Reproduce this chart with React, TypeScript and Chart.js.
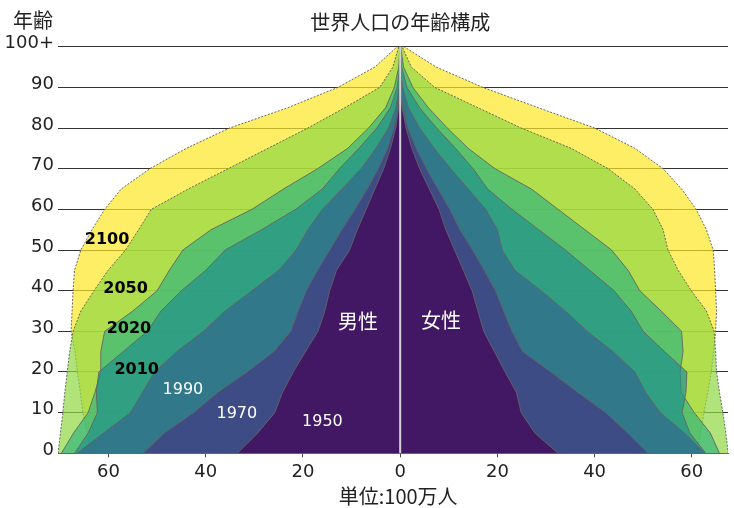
import React, { useEffect, useRef } from 'react';
import { Chart, registerables } from 'chart.js';

Chart.register(...registerables);

// Age groups (start of each 5-year group; 100 = "100+")
const ageGroups = [0, 5, 10, 15, 20, 25, 30, 35, 40, 45, 50, 55, 60, 65, 70, 75, 80, 85, 90, 95, 100];

const years = ['1950', '1970', '1990', '2010', '2020', '2050', '2100'];

// Population per single year of age (millions), male = left side
const male1950 = [33.5, 29.3, 25.8, 24.2, 22.0, 19.5, 16.9, 15.5, 14.5, 13.1, 10.4, 8.8, 7.0, 5.2, 3.4, 2.0, 0.9, 0.3, 0.06, 0.01, 0];
const female1950 = [32.5, 27.7, 24.9, 23.9, 21.6, 19.4, 17.2, 16.0, 14.8, 13.0, 11.2, 9.4, 8.0, 6.0, 4.0, 2.4, 1.2, 0.4, 0.1, 0.02, 0];
const male1970 = [52.9, 48.5, 42.5, 37.5, 31.5, 26.0, 22.5, 21.0, 19.3, 17.0, 14.5, 12.0, 9.3, 6.8, 4.5, 2.6, 1.3, 0.45, 0.1, 0.02, 0];
const female1970 = [51.0, 46.8, 42.3, 36.5, 31.0, 25.2, 23.0, 21.3, 19.6, 17.3, 14.9, 12.3, 10.2, 7.8, 5.4, 3.3, 1.6, 0.6, 0.14, 0.02, 0];
const male1990 = [66.5, 61.0, 55.5, 53.0, 50.5, 46.0, 40.5, 36.0, 30.5, 25.0, 21.4, 19.0, 16.0, 12.0, 8.0, 5.0, 2.4, 0.9, 0.2, 0.03, 0];
const female1990 = [62.7, 58.5, 53.5, 50.5, 48.3, 43.8, 38.5, 34.0, 29.0, 23.6, 21.0, 20.0, 17.6, 14.0, 10.4, 7.0, 4.0, 1.7, 0.5, 0.08, 0.01];
const male2010 = [67.0, 64.2, 62.3, 62.5, 62.0, 57.0, 52.0, 49.2, 45.0, 40.0, 36.0, 28.5, 21.5, 16.0, 12.5, 8.5, 4.8, 2.0, 0.6, 0.1, 0.02];
const female2010 = [62.9, 59.6, 58.0, 58.8, 59.0, 54.4, 50.0, 47.5, 44.0, 39.0, 34.0, 28.5, 23.0, 18.0, 15.0, 11.4, 7.5, 4.0, 1.4, 0.3, 0.05];
const male2020 = [69.7, 67.2, 64.2, 62.8, 61.6, 61.6, 60.8, 55.0, 50.0, 47.5, 44.7, 38.9, 30.5, 24.0, 17.0, 10.8, 6.5, 3.0, 1.2, 0.3, 0.04];
const female2020 = [65.7, 63.8, 60.5, 57.8, 57.6, 58.2, 57.9, 53.7, 49.3, 46.9, 43.5, 38.0, 32.5, 27.0, 19.5, 14.0, 9.7, 5.8, 2.6, 0.7, 0.1];
const male2050 = [70.4, 69.9, 69.4, 69.0, 68.5, 68.0, 67.3, 65.7, 63.0, 60.1, 56.5, 53.8, 51.2, 43.6, 35.4, 27.2, 19.0, 11.4, 4.2, 1.5, 0.3];
const female2050 = [67.5, 67.0, 66.4, 65.7, 65.1, 64.9, 64.6, 63.0, 59.9, 57.2, 55.1, 54.1, 52.0, 48.3, 42.8, 35.2, 24.9, 16.0, 7.1, 2.3, 0.4];
const male2100 = [63.7, 64.4, 65.3, 65.8, 66.4, 66.9, 67.7, 67.5, 67.3, 67.0, 65.7, 63.4, 60.8, 57.4, 51.5, 44.0, 35.1, 23.1, 12.8, 5.2, 0.6];
const female2100 = [60.9, 61.8, 62.5, 63.3, 64.0, 64.5, 64.9, 65.1, 64.9, 64.7, 64.4, 63.0, 60.9, 57.9, 54.1, 48.3, 40.0, 28.4, 17.0, 7.4, 0.8];

const maleSeries = [male1950, male1970, male1990, male2010, male2020, male2050, male2100];
const femaleSeries = [female1950, female1970, female1990, female2010, female2020, female2050, female2100];

const layerColors = ['#440154', '#443983', '#31688e', '#21918c', '#35b779', '#90d743', '#fde725'];
const dashedYears = ['2050', '2100'];

const xTickValues = [-60, -40, -20, 0, 20, 40, 60];
const yTickValues = [0, 10, 20, 30, 40, 50, 60, 70, 80, 90, 100];
const yTickLabels = ['0', '10', '20', '30', '40', '50', '60', '70', '80', '90', '100+'];

const xMin = -70.4;
const xMax = 67.45;

// In-chart annotations (data coordinates: millions, age)
const noteTexts = ['2100', '2050', '2020', '2010', '1990', '1970', '1950', '男性', '女性'];
const noteX = [-60.3, -56.5, -55.8, -54.2, -44.7, -33.6, -16.0, -8.7, 8.4];
const noteAge = [52.6, 40.5, 30.7, 20.6, 15.6, 9.7, 7.8, 32.5, 32.8];

const titleText = '世界人口の年齢構成';
const yTitleText = '年齢';
const xTitleText = '単位:100万人';

const NUM_FONT = '"DejaVu Sans", "Noto Sans CJK JP", sans-serif';
const JP_FONT = '"Noto Sans CJK JP", "DejaVu Sans", sans-serif';

function hexToRgba(hex: string, a: number) {
  const n = parseInt(hex.slice(1), 16);
  return `rgba(${(n >> 16) & 255},${(n >> 8) & 255},${n & 255},${a})`;
}

function polygon(male: number[], female: number[]) {
  const pts: { x: number; y: number }[] = [];
  for (let i = 0; i < ageGroups.length; i++) pts.push({ x: -male[i], y: ageGroups[i] });
  for (let i = ageGroups.length - 1; i >= 0; i--) pts.push({ x: female[i], y: ageGroups[i] });
  return pts;
}

const textPlugin = {
  id: 'texts',
  afterDatasetsDraw(chart: any) {
    const { ctx, scales } = chart;
    const xs = scales.x;
    const ys = scales.y;
    ctx.save();
    ctx.textAlign = 'center';
    ctx.textBaseline = 'middle';
    noteTexts.forEach((t, i) => {
      const isJp = t === '男性' || t === '女性';
      const yr = parseInt(t, 10);
      if (isJp) {
        ctx.font = `400 20px ${JP_FONT}`;
        ctx.fillStyle = '#ffffff';
      } else if (yr >= 2010) {
        ctx.font = `bold 16px ${NUM_FONT}`;
        ctx.fillStyle = '#000000';
      } else {
        ctx.font = `16px ${NUM_FONT}`;
        ctx.fillStyle = '#ffffff';
      }
      ctx.fillText(t, xs.getPixelForValue(noteX[i]), ys.getPixelForValue(noteAge[i]));
    });
    ctx.restore();
  },
  afterDraw(chart: any) {
    const { ctx, scales } = chart;
    const xs = scales.x;
    ctx.save();
    ctx.fillStyle = '#222222';
    ctx.textAlign = 'center';
    ctx.textBaseline = 'middle';
    ctx.font = `400 20px ${JP_FONT}`;
    ctx.fillText(titleText, xs.getPixelForValue(0), 22);
    ctx.fillText(yTitleText, 33, 20);
    ctx.fillText(xTitleText, xs.getPixelForValue(0) - 2, 496);
    ctx.restore();
  },
};

export default function App() {
  const ref = useRef<HTMLCanvasElement>(null);

  useEffect(() => {
    document.body.style.margin = '0';
    if (!ref.current) return;

    const layerDatasets = years.map((yr, i) => {
      const dashed = dashedYears.includes(yr);
      return {
        label: yr,
        data: polygon(maleSeries[i], femaleSeries[i]),
        backgroundColor: hexToRgba(layerColors[i], 0.7),
        borderColor: dashed ? 'rgba(90,90,90,0.9)' : 'rgba(100,100,100,0.9)',
        borderWidth: 1,
        borderDash: dashed ? [2, 1.5] : [],
        fill: 'shape',
        pointRadius: 0,
        tension: 0,
        order: 0,
      };
    });

    const centerLine = {
      label: 'center',
      data: [
        { x: 0, y: 0 },
        { x: 0, y: 100 },
      ],
      borderColor: '#d4d4d8',
      borderWidth: 2,
      fill: false,
      pointRadius: 0,
      order: -1,
    };

    const chart = new Chart(ref.current, {
      type: 'line',
      data: { datasets: [centerLine, ...layerDatasets] as any },
      plugins: [textPlugin],
      options: {
        animation: false,
        responsive: false,
        events: [],
        layout: { padding: { top: 46.7, right: 6, left: 0, bottom: 0 } },
        plugins: {
          legend: { display: false },
          tooltip: { enabled: false },
          title: { display: false },
        },
        scales: {
          x: {
            type: 'linear',
            min: xMin,
            max: xMax,
            afterBuildTicks: (scale: any) => {
              scale.ticks = xTickValues.map((v) => ({ value: v }));
            },
            afterFit: (scale: any) => {
              scale.height = 54.7;
            },
            grid: {
              display: true,
              drawOnChartArea: false,
              drawTicks: true,
              tickLength: 4,
              color: '#444444',
            },
            border: { display: true, color: '#666666', width: 1, z: 1 },
            ticks: {
              padding: 4,
              color: '#222222',
              font: { family: NUM_FONT, size: 18 },
              maxRotation: 0,
              callback: (v: any) => String(Math.abs(Number(v))),
            },
          },
          y: {
            type: 'linear',
            min: 0,
            max: 100,
            afterBuildTicks: (scale: any) => {
              scale.ticks = yTickValues.map((v) => ({ value: v }));
            },
            afterFit: (scale: any) => {
              scale.width = 58;
            },
            grid: {
              display: true,
              drawOnChartArea: true,
              drawTicks: false,
              color: 'rgba(0,0,0,0.8)',
              lineWidth: 1,
            },
            border: { display: false },
            ticks: {
              padding: 4,
              labelOffset: -3,
              color: '#222222',
              font: { family: NUM_FONT, size: 18 },
              callback: (v: any) => {
                const idx = yTickValues.indexOf(Number(v));
                return idx >= 0 ? yTickLabels[idx] : '';
              },
            },
          },
        },
      } as any,
    });

    return () => chart.destroy();
  }, []);

  return (
    <div style={{ width: 734, height: 508 }}>
      <canvas ref={ref} width={734} height={508} style={{ display: 'block' }} />
    </div>
  );
}
